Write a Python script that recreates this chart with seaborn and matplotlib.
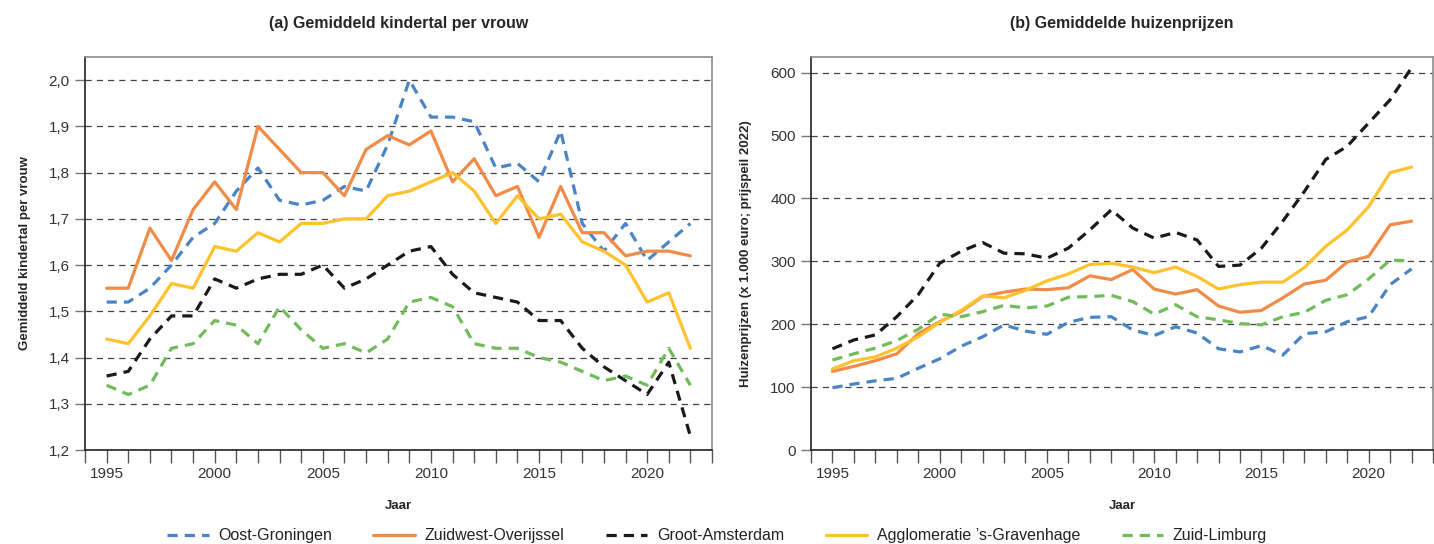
import matplotlib
matplotlib.use("Agg")
import matplotlib.pyplot as plt
import matplotlib.ticker as mticker
import pandas as pd
import seaborn as sns

# Data
years = list(range(1995, 2023))
regions = ["Oost-Groningen", "Zuidwest-Overijssel", "Groot-Amsterdam",
           "Agglomeratie \u2019s-Gravenhage", "Zuid-Limburg"]

kinder_oost_groningen = [1.52, 1.52, 1.55, 1.60, 1.66, 1.69, 1.76, 1.81, 1.74, 1.73,
                         1.74, 1.77, 1.76, 1.86, 2.00, 1.92, 1.92, 1.91, 1.81, 1.82,
                         1.78, 1.89, 1.69, 1.63, 1.69, 1.61, 1.65, 1.69]
kinder_zw_overijssel = [1.55, 1.55, 1.68, 1.61, 1.72, 1.78, 1.72, 1.90, 1.85, 1.80,
                        1.80, 1.75, 1.85, 1.88, 1.86, 1.89, 1.78, 1.83, 1.75, 1.77,
                        1.66, 1.77, 1.67, 1.67, 1.62, 1.63, 1.63, 1.62]
kinder_groot_amsterdam = [1.36, 1.37, 1.44, 1.49, 1.49, 1.57, 1.55, 1.57, 1.58, 1.58,
                          1.60, 1.55, 1.57, 1.60, 1.63, 1.64, 1.58, 1.54, 1.53, 1.52,
                          1.48, 1.48, 1.42, 1.38, 1.35, 1.32, 1.39, 1.23]
kinder_den_haag = [1.44, 1.43, 1.49, 1.56, 1.55, 1.64, 1.63, 1.67, 1.65, 1.69,
                   1.69, 1.70, 1.70, 1.75, 1.76, 1.78, 1.80, 1.76, 1.69, 1.75,
                   1.70, 1.71, 1.65, 1.63, 1.60, 1.52, 1.54, 1.42]
kinder_zuid_limburg = [1.34, 1.32, 1.34, 1.42, 1.43, 1.48, 1.47, 1.43, 1.51, 1.46,
                       1.42, 1.43, 1.41, 1.44, 1.52, 1.53, 1.51, 1.43, 1.42, 1.42,
                       1.40, 1.39, 1.37, 1.35, 1.36, 1.34, 1.42, 1.34]

huis_oost_groningen = [99, 105, 110, 114, 130, 145, 165, 180, 199, 189,
                       184, 203, 211, 212, 191, 182, 196, 186, 161, 156,
                       166, 151, 185, 188, 204, 212, 263, 288]
huis_zw_overijssel = [125, 133, 142, 153, 185, 204, 220, 244, 251, 256,
                      255, 258, 277, 271, 287, 256, 248, 255, 229, 219,
                      222, 242, 264, 270, 299, 308, 358, 364]
huis_groot_amsterdam = [161, 175, 183, 212, 247, 297, 316, 330, 313, 312,
                        305, 321, 350, 382, 353, 337, 346, 334, 292, 294,
                        321, 364, 411, 462, 483, 520, 557, 608]
huis_den_haag = [129, 142, 148, 162, 180, 203, 222, 245, 242, 254,
                 269, 280, 295, 297, 291, 282, 291, 276, 256, 263,
                 267, 267, 290, 324, 350, 387, 441, 450]
huis_zuid_limburg = [143, 153, 162, 174, 192, 216, 212, 220, 230, 226,
                     229, 243, 244, 246, 236, 216, 231, 212, 207, 201,
                     199, 212, 219, 238, 247, 272, 302, 301]

kinder = [kinder_oost_groningen, kinder_zw_overijssel, kinder_groot_amsterdam,
          kinder_den_haag, kinder_zuid_limburg]
huis = [huis_oost_groningen, huis_zw_overijssel, huis_groot_amsterdam,
        huis_den_haag, huis_zuid_limburg]

rows = []
for reg, k_vals, h_vals in zip(regions, kinder, huis):
    for yr, k, h in zip(years, k_vals, h_vals):
        rows.append({"Jaar": yr, "Regio": reg, "kinder": k, "huis": h})
df = pd.DataFrame(rows)

colors = ["#4a84c6", "#f08c48", "#1a1a1a", "#fec22c", "#72bb5c"]
palette = dict(zip(regions, colors))
dashes = {regions[0]: (3.2, 2.2), regions[1]: "", regions[2]: (3.2, 2.2),
          regions[3]: "", regions[4]: (3.2, 2.2)}

sns.set_style("white")
plt.rcParams["font.family"] = ["Liberation Sans", "DejaVu Sans"]

fig = plt.figure(figsize=(14.34, 5.44), dpi=100)
W, H = 1434, 544
ax1 = fig.add_axes([85 / W, 94 / H, (712 - 85) / W, 393 / H])
ax2 = fig.add_axes([811 / W, 94 / H, (1433 - 811) / W, 393 / H])


def style_axis(ax):
    for side in ["top", "right"]:
        ax.spines[side].set_color("#8c8c8c")
        ax.spines[side].set_linewidth(1.2)
    for side in ["left", "bottom"]:
        ax.spines[side].set_color("#222222")
        ax.spines[side].set_linewidth(1.2)
    ax.set_xlim(1994, 2023)
    ax.set_xticks(range(1994, 2024))
    ax.set_xticklabels([str(y) if y % 5 == 0 else "" for y in range(1994, 2024)])
    ax.tick_params(axis="x", direction="out", length=9, width=1, color="#555555",
                   labelsize=11, labelcolor="#333333", pad=3, bottom=True)
    ax.tick_params(axis="y", direction="out", length=7, width=1, color="#777777",
                   labelsize=11, labelcolor="#333333", pad=4, left=True)
    ax.yaxis.grid(True, linestyle=(0, (5, 4)), color="#444444", linewidth=0.9)
    ax.set_axisbelow(True)
    ax.set_xlabel("Jaar", fontsize=9.5, fontweight="bold", labelpad=14)


sns.lineplot(data=df, x="Jaar", y="kinder", hue="Regio", style="Regio",
             palette=palette, dashes=dashes, linewidth=2.3, ax=ax1, legend=False)
style_axis(ax1)
ax1.set_ylim(1.2, 2.05)
ax1.set_yticks([1.2, 1.3, 1.4, 1.5, 1.6, 1.7, 1.8, 1.9, 2.0])
ax1.yaxis.set_major_formatter(mticker.FuncFormatter(lambda v, p: f"{v:.1f}".replace(".", ",")))
ax1.set_ylabel("Gemiddeld kindertal per vrouw", fontsize=9.5, fontweight="bold", labelpad=13)
ax1.set_title("(a) Gemiddeld kindertal per vrouw", fontsize=11.5, fontweight="bold", pad=21)

sns.lineplot(data=df, x="Jaar", y="huis", hue="Regio", style="Regio",
             palette=palette, dashes=dashes, linewidth=2.3, ax=ax2)
style_axis(ax2)
ax2.set_ylim(0, 625)
ax2.set_yticks(range(0, 601, 100))
ax2.set_ylabel("Huizenprijzen (x 1.000 euro; prijspeil 2022)", fontsize=9.5,
               fontweight="bold", labelpad=13)
ax2.set_title("(b) Gemiddelde huizenprijzen", fontsize=11.5, fontweight="bold", pad=21)

handles, labels = ax2.get_legend_handles_labels()
ax2.get_legend().remove()
fig.legend(handles, labels, loc="lower center", bbox_to_anchor=(0.5, -0.025), ncol=5,
           frameon=False, fontsize=11.5, handlelength=2.6, handletextpad=0.6,
           columnspacing=2.6, labelcolor="#222222")

fig.savefig("out.png", dpi=100)
